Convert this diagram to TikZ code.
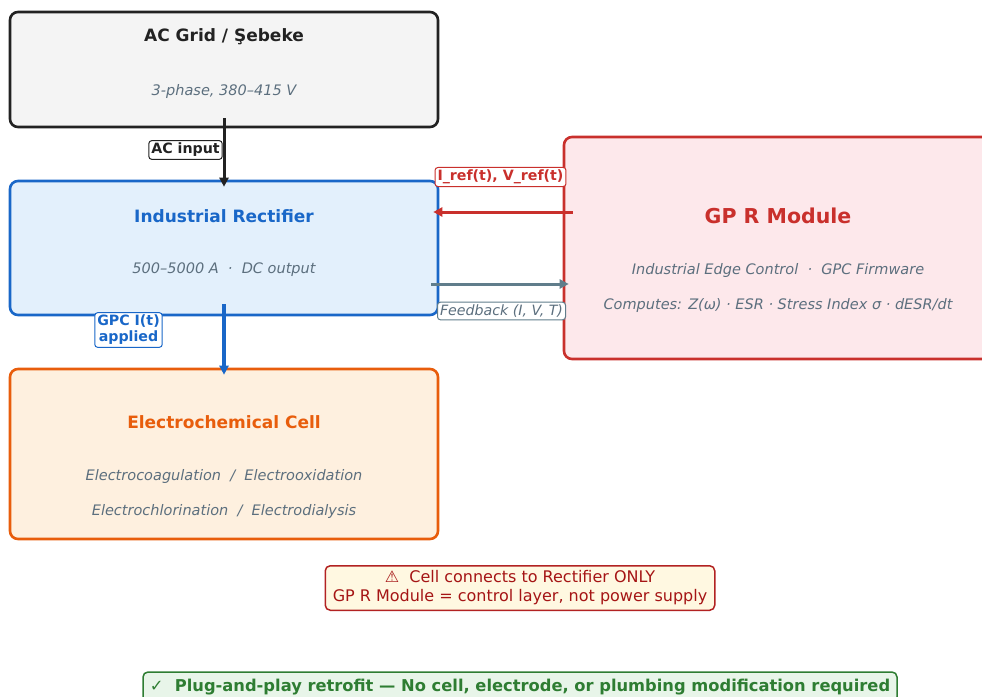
\documentclass[tikz,border=0pt]{standalone}
\usepackage{fontspec}
\setmainfont{DejaVu Sans}
\usetikzlibrary{arrows.meta}

\definecolor{inkdark}{HTML}{222222}
\definecolor{griddraw}{HTML}{222222}
\definecolor{gridfill}{HTML}{F4F4F4}
\definecolor{recblue}{HTML}{1967C8}
\definecolor{recfill}{HTML}{E3F0FC}
\definecolor{cellorange}{HTML}{E85D0C}
\definecolor{cellfill}{HTML}{FEF0DF}
\definecolor{gpred}{HTML}{C9302C}
\definecolor{gpfill}{HTML}{FDE8EB}
\definecolor{slate}{HTML}{5C6F7E}
\definecolor{fbgray}{HTML}{607D8B}
\definecolor{warnfill}{HTML}{FFF8E1}
\definecolor{warndraw}{HTML}{B22222}
\definecolor{warntext}{HTML}{A51515}
\definecolor{okgreen}{HTML}{2E7D32}
\definecolor{okfill}{HTML}{E8F5E9}

% font size / baseline skip in one call
\newcommand{\fsz}[2]{\fontsize{#1}{#2}\selectfont}

\tikzset{
  block/.style={rounded corners=8pt, line width=2.6pt, minimum width=428pt, inner sep=0pt},
  ttl/.style={font=\fsz{17}{20}\bfseries},
  sub/.style={font=\fsz{14.5}{17}\itshape, text=slate},
  tag/.style={draw, fill=white, rounded corners=3pt, line width=1pt, inner xsep=2.5pt, inner ysep=2.5pt,
              font=\fsz{14.2}{16}\bfseries, align=center},
  flow/.style={line width=3pt, -{Triangle[length=9pt,width=9pt]}},
}

\begin{document}
\begin{tikzpicture}[x=1pt,y=-1pt]
\useasboundingbox (0,0) rectangle (982,696);
\clip (0,0) rectangle (982,696);

% main blocks
\node[block, draw=griddraw, fill=gridfill, minimum height=115pt] (grid) at (224,69.5) {};
\node[block, draw=recblue, fill=recfill, minimum height=134pt] (rect) at (224,248) {};
\node[block, draw=cellorange, fill=cellfill, minimum height=170pt] (cell) at (224,454) {};
\node[block, draw=gpred, fill=gpfill, minimum height=222pt] (gpr) at (778,248) {};

% block texts
\node[ttl, text=inkdark] (gridT) at (224,37) {AC Grid / Şebeke};
\node[sub] (gridS) at (224,91) {3-phase, 380–415 V};

\node[ttl, text=recblue] (rectT) at (224,216) {Industrial Rectifier};
\node[sub] (rectS) at (224,270) {500–5000 A\ \ ·\ \ DC output};

\node[ttl, text=cellorange] (cellT) at (224,422) {Electrochemical Cell};
\node[sub] (cellS1) at (224,476) {Electrocoagulation\ \ /\ \ Electrooxidation};
\node[sub] (cellS2) at (224,511) {Electrochlorination\ \ /\ \ Electrodialysis};

\node[font=\fsz{20.5}{24}\bfseries, text=gpred] (gprT) at (778,216) {GP R Module};
\node[sub] (gprS1) at (778,270) {Industrial Edge Control\ \ ·\ \ GPC Firmware};
\node[sub] (gprS2) at (778,305) {Computes: Z(ω) · ESR · Stress Index σ · dESR/dt};

% connectors
\draw[flow, draw=inkdark] ([yshift=10pt]grid.south) -- ([yshift=-7pt]rect.north);
\draw[flow, draw=recblue, line width=3.5pt] ([yshift=12pt]rect.south) -- ([yshift=-7pt]cell.north);
\draw[flow, draw=gpred] ([shift={(10pt,36pt)}]gpr.west) -- ([shift={(-6pt,36pt)}]rect.east);
\draw[flow, draw=fbgray] ([shift={(-8pt,-36pt)}]rect.east) -- ([shift={(6pt,-36pt)}]gpr.west);

% connector labels
\node[tag, draw=inkdark, text=inkdark] (acin) at (185.5,150) {AC input};
\node[tag, draw=recblue, text=recblue] (gpcl) at (128.5,330) {GPC I(t)\\applied};
\node[tag, draw=gpred, text=gpred] (refl) at (500.5,177) {I\_ref(t), V\_ref(t)};
\node[tag, draw=fbgray, text=slate, font=\fsz{14.2}{16}\itshape] (fbl) at (501.5,311) {Feedback (I, V, T)};

% notes
\node[draw=warndraw, fill=warnfill, text=warntext, rounded corners=5pt, line width=1.5pt,
      font=\fsz{16}{19}, align=center, inner xsep=7.5pt, inner ysep=5pt] (warn) at (520,588)
      {⚠\ \ Cell connects to Rectifier ONLY\\GP R Module = control layer, not power supply};
\node[draw=okgreen, fill=okfill, text=okgreen, rounded corners=5pt, line width=1.5pt,
      font=\fsz{16.3}{19}\bfseries, minimum width=754pt, minimum height=30pt, inner sep=0pt] (ok) at (520,687)
      {✓\ \ Plug-and-play retrofit — No cell, electrode, or plumbing modification required};
\end{tikzpicture}
\end{document}
